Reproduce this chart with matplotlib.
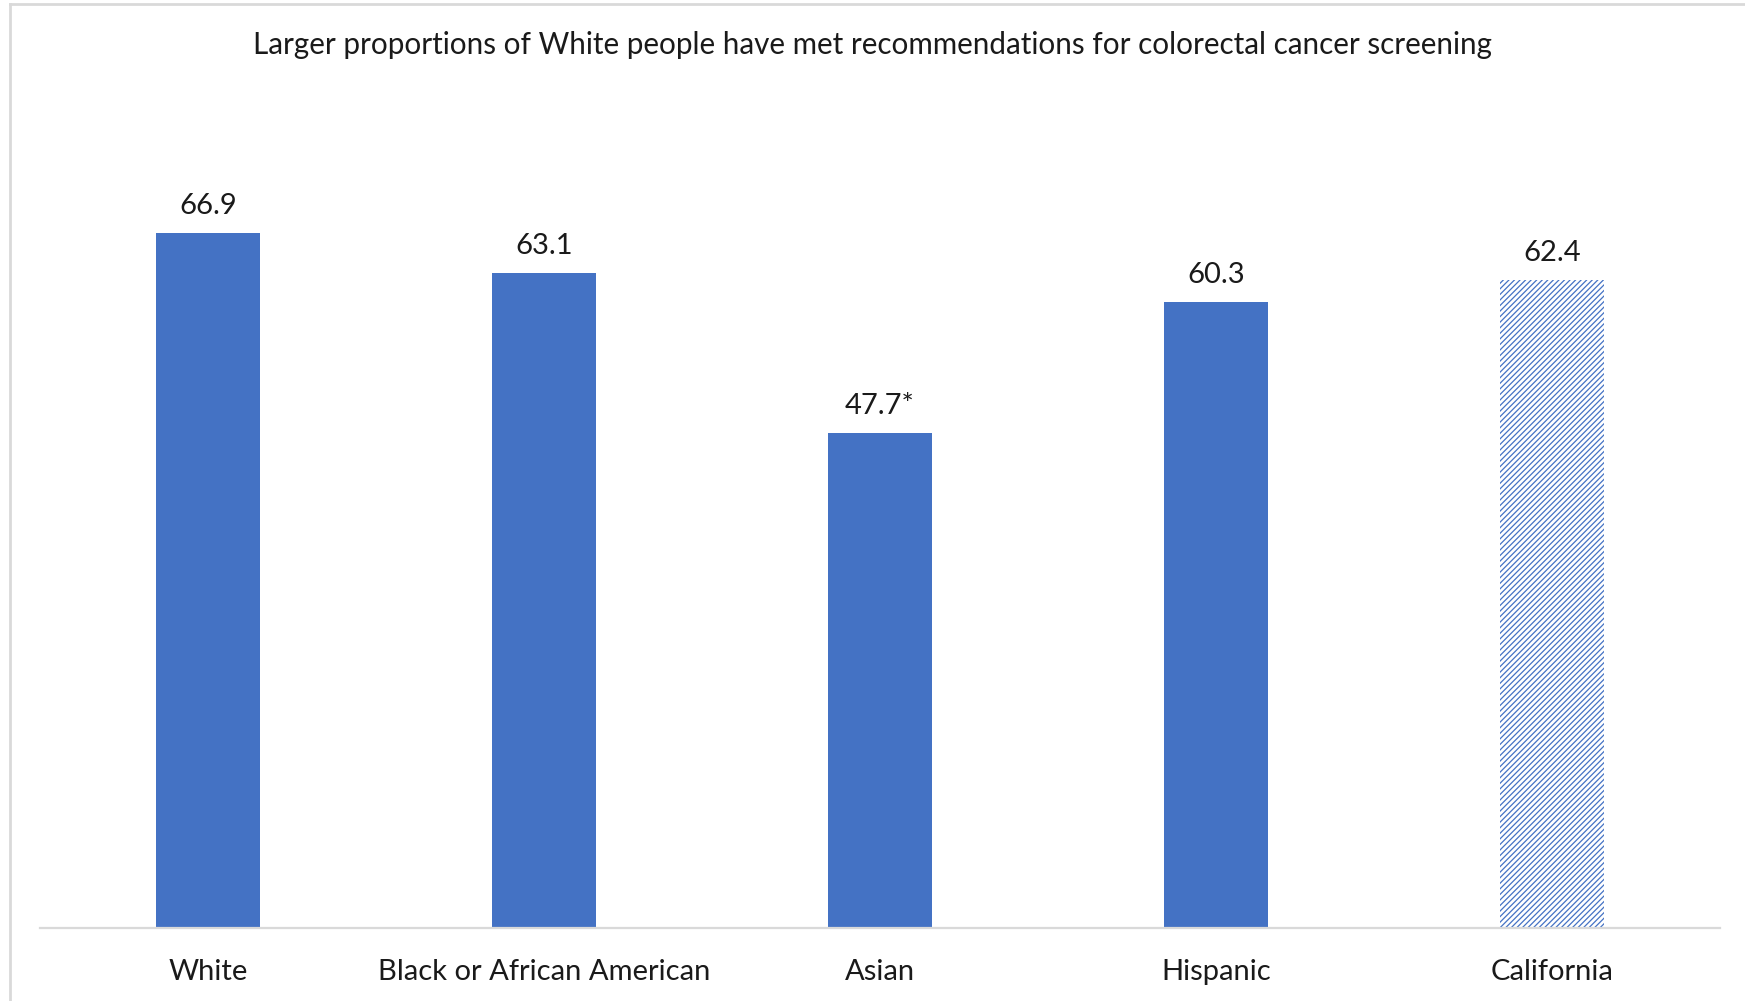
import matplotlib
matplotlib.use("Agg")
import matplotlib.pyplot as plt
from matplotlib.lines import Line2D
import numpy as np

plt.rcParams['font.family'] = ['Lato', 'DejaVu Sans']
plt.rcParams['hatch.linewidth'] = 0.9

# colorectal cancer screening, % meeting recommendations
groups = ["White", "Black or African American", "Asian", "Hispanic", "California"]
values = [66.9, 63.1, 47.7, 60.3, 62.4]
value_labels = ["66.9", "63.1", "47.7*", "60.3", "62.4"]

blue = "#4472C4"
grey = "#D9D9D9"

W, H = 1745, 1001
fig = plt.figure(figsize=(W / 100, H / 100), dpi=100)

# plot area in pixel terms
left, right = 40, 1720
bottom, top = 1001 - 928, 1001 - 97
ax = fig.add_axes([left / W, bottom / H, (right - left) / W, (top - bottom) / H])

x = np.arange(len(groups))
bars = ax.bar(x[:-1], values[:-1], width=0.31, color=blue, linewidth=0)
# statewide bar is hatched
ax.bar(x[-1], values[-1], width=0.31, color="white", edgecolor=blue,
       hatch="//////", linewidth=0)

for xi, v, lab in zip(x, values, value_labels):
    ax.annotate(lab, (xi, v), xytext=(0, 10), textcoords="offset points",
                ha="center", va="bottom", fontsize=21, color="#1a1a1a")

ax.set_xlim(-0.5, len(groups) - 0.5)
ax.set_ylim(0, 80)
ax.set_xticks(x)
ax.set_xticklabels(groups, fontsize=21, color="#1a1a1a")
ax.tick_params(axis="x", length=0, pad=22)
ax.set_yticks([])
for s in ["top", "right", "left"]:
    ax.spines[s].set_visible(False)
ax.spines["bottom"].set_color(grey)
ax.spines["bottom"].set_linewidth(1.6)

fig.text(0.5, 1 - 45 / H, "Larger proportions of White people have met recommendations for colorectal cancer screening",
         ha="center", va="center", fontsize=21.3, color="#1a1a1a")

# chart frame edges
fig.add_artist(Line2D([10 / W, 1], [1 - 4 / H, 1 - 4 / H], color=grey, linewidth=2))
fig.add_artist(Line2D([10 / W, 10 / W], [0, 1 - 4 / H], color=grey, linewidth=2))

fig.savefig("out.png", dpi=100)
